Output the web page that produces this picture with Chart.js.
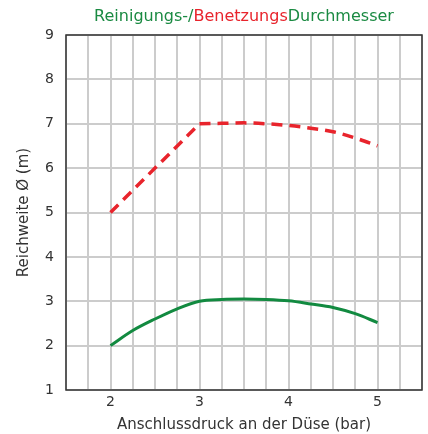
<!DOCTYPE html>
<html><head><meta charset="utf-8">
<script src="https://cdn.jsdelivr.net/npm/chart.js@4/dist/chart.umd.min.js"></script>
<style>html,body{margin:0;padding:0;background:#fff}#wrap{width:428px;height:434px}</style>
</head><body><div id="wrap"><canvas id="c" width="428" height="434"></canvas></div>
<script>
const redRiseX = [2, 3];
const redRiseY = [5, 7];
const redFallX = [3, 3.25, 3.5, 3.75, 4, 4.25, 4.5, 4.75, 5];
const redFallY = [7, 7.01, 7.02, 7.0, 6.96, 6.9, 6.82, 6.68, 6.5];
const greenX = [2, 2.25, 2.5, 2.75, 3, 3.25, 3.5, 3.75, 4, 4.25, 4.5, 4.75, 5];
const greenY = [2, 2.34, 2.6, 2.83, 3.0, 3.04, 3.05, 3.04, 3.01, 2.94, 2.86, 2.72, 2.52];
const xTickLabels = [2, 3, 4, 5];
const titleParts = [["Reinigungs-/", "#1a8a42"], ["Benetzungs", "#e8242c"], ["Durchmesser", "#1a8a42"]];
const xTitle = "Anschlussdruck an der Düse (bar)";
const yTitle = "Reichweite Ø (m)";

const FONT = "'DejaVu Sans', sans-serif";
const titlePlugin = {
  id: 'multiTitle',
  afterDraw(chart) {
    const ctx = chart.ctx, a = chart.chartArea;
    ctx.save();
    ctx.font = "16px " + FONT;
    ctx.textBaseline = 'middle';
    const total = titleParts.reduce((s, p) => s + ctx.measureText(p[0]).width, 0);
    let x = (a.left + a.right) / 2 - total / 2;
    for (const [t, c] of titleParts) {
      ctx.fillStyle = c; ctx.textAlign = 'left';
      ctx.fillText(t, x, 17);
      x += ctx.measureText(t).width;
    }
    ctx.strokeStyle = '#333'; ctx.lineWidth = 1.5;
    ctx.strokeRect(a.left, a.top, a.right - a.left, a.bottom - a.top);
    ctx.restore();
  }
};

const redStyle = { borderColor: '#e8242c', borderWidth: 3.5, borderDash: [11, 7], pointRadius: 0, fill: false };
new Chart(document.getElementById('c'), {
  type: 'line',
  data: {
    datasets: [
      Object.assign({ data: redRiseX.map((x, i) => ({x, y: redRiseY[i]})), tension: 0 }, redStyle),
      Object.assign({ data: redFallX.map((x, i) => ({x, y: redFallY[i]})), cubicInterpolationMode: 'monotone' }, redStyle),
      { data: greenX.map((x, i) => ({x, y: greenY[i]})), borderColor: '#128a40', borderWidth: 3, pointRadius: 0, cubicInterpolationMode: 'monotone', fill: false }
    ]
  },
  plugins: [titlePlugin],
  options: {
    responsive: false, animation: false,
    layout: { padding: { top: 35, right: 6, left: 0, bottom: 0 } },
    plugins: { legend: { display: false }, tooltip: { enabled: false } },
    scales: {
      x: {
        type: 'linear', min: 1.5, max: 5.5,
        afterFit(s) { s.height = 44; },
        afterBuildTicks(s) { const t = []; for (let v = 1.5; v <= 5.5001; v += 0.25) t.push({value: +v.toFixed(2)}); s.ticks = t; },
        ticks: { autoSkip: false, maxRotation: 0, color: '#333', font: { family: FONT, size: 14 }, padding: 4,
          callback: v => xTickLabels.includes(v) ? String(v) : '' },
        grid: { color: '#cccccc', lineWidth: 2, drawTicks: false },
        border: { display: false },
        title: { display: true, text: xTitle, color: '#333', font: { family: FONT, size: 15 }, padding: { top: 3, bottom: 0 } }
      },
      y: {
        min: 1, max: 9,
        afterFit(s) { s.width = 66; },
        ticks: { stepSize: 1, color: '#333', font: { family: FONT, size: 14 }, padding: 12 },
        grid: { color: '#cccccc', lineWidth: 2, drawTicks: false },
        border: { display: false },
        title: { display: true, text: yTitle, color: '#333', font: { family: FONT, size: 15 }, padding: { top: 15, bottom: 4 } }
      }
    }
  }
});
</script></body></html>
